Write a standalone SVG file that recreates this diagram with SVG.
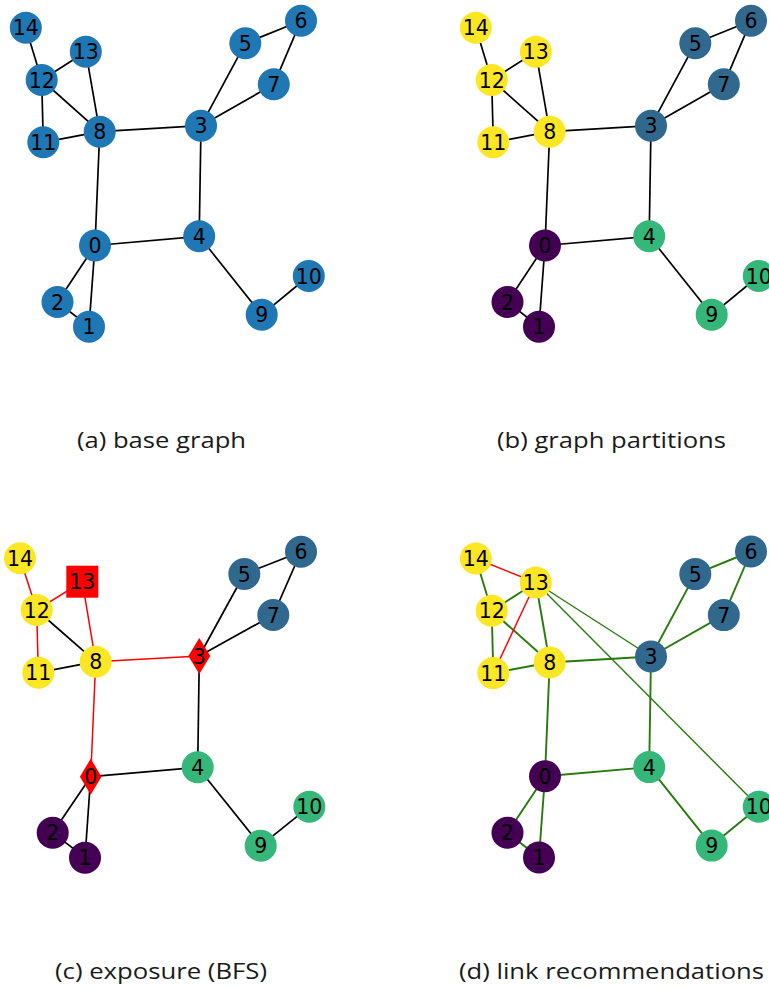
<svg xmlns="http://www.w3.org/2000/svg" width="769" height="988" viewBox="0 0 769 988">
<style>
.e{stroke:#000;stroke-width:1.7;fill:none}
.r{stroke:#ff0000;stroke-width:1.5;fill:none}
.g{stroke:#277a0c;stroke-width:1.9;fill:none}
.gt{stroke:#277a0c;stroke-width:1.4;fill:none}
.rt{stroke:#ff0000;stroke-width:1.4;fill:none}
.lb{font-family:"DejaVu Sans",sans-serif;font-size:20.5px;fill:#000;text-anchor:middle}
.cap{font-family:"Open Sans","Noto Sans",sans-serif;font-size:21.5px;fill:#1a1a1a;text-anchor:middle}
.blu{fill:#1f77b4}.yel{fill:#fde725}.pur{fill:#440154}.tea{fill:#31688e}.grn{fill:#35b779}.red{fill:#ff0000}
</style>
<rect width="769" height="988" fill="#fff"/>

<!-- Panel A -->
<g id="panel-a">
<g id="a-edges">
<line class="e" x1="25.8" y1="27.7" x2="41.7" y2="80"/>
<line class="e" x1="41.7" y1="80" x2="85.8" y2="51.7"/>
<line class="e" x1="41.7" y1="80" x2="43.3" y2="142.3"/>
<line class="e" x1="41.7" y1="80" x2="99.7" y2="131.7"/>
<line class="e" x1="85.8" y1="51.7" x2="99.7" y2="131.7"/>
<line class="e" x1="43.3" y1="142.3" x2="99.7" y2="131.7"/>
<line class="e" x1="99.7" y1="131.7" x2="201" y2="125.7"/>
<line class="e" x1="99.7" y1="131.7" x2="95" y2="245.5"/>
<line class="e" x1="201" y1="125.7" x2="245.3" y2="43.3"/>
<line class="e" x1="201" y1="125.7" x2="273.8" y2="84.3"/>
<line class="e" x1="245.3" y1="43.3" x2="301" y2="20.7"/>
<line class="e" x1="301" y1="20.7" x2="273.8" y2="84.3"/>
<line class="e" x1="201" y1="125.7" x2="199.2" y2="236.3"/>
<line class="e" x1="199.2" y1="236.3" x2="95" y2="245.5"/>
<line class="e" x1="199.2" y1="236.3" x2="261.7" y2="314.8"/>
<line class="e" x1="261.7" y1="314.8" x2="308.8" y2="276"/>
<line class="e" x1="95" y1="245.5" x2="57.5" y2="302"/>
<line class="e" x1="95" y1="245.5" x2="89" y2="326.7"/>
<line class="e" x1="57.5" y1="302" x2="89" y2="326.7"/>
</g>
<g id="a-n0"><circle class="blu" cx="95" cy="245.5" r="16"/><text class="lb" x="95" y="253">0</text></g>
<g id="a-n1"><circle class="blu" cx="89" cy="326.7" r="16"/><text class="lb" x="89" y="334.2">1</text></g>
<g id="a-n2"><circle class="blu" cx="57.5" cy="302" r="16"/><text class="lb" x="57.5" y="309.5">2</text></g>
<g id="a-n3"><circle class="blu" cx="201" cy="125.7" r="16"/><text class="lb" x="201" y="133.2">3</text></g>
<g id="a-n4"><circle class="blu" cx="199.2" cy="236.3" r="16"/><text class="lb" x="199.2" y="243.8">4</text></g>
<g id="a-n5"><circle class="blu" cx="245.3" cy="43.3" r="16"/><text class="lb" x="245.3" y="50.8">5</text></g>
<g id="a-n6"><circle class="blu" cx="301" cy="20.7" r="16"/><text class="lb" x="301" y="28.2">6</text></g>
<g id="a-n7"><circle class="blu" cx="273.8" cy="84.3" r="16"/><text class="lb" x="273.8" y="91.8">7</text></g>
<g id="a-n8"><circle class="blu" cx="99.7" cy="131.7" r="16"/><text class="lb" x="99.7" y="139.2">8</text></g>
<g id="a-n9"><circle class="blu" cx="261.7" cy="314.8" r="16"/><text class="lb" x="261.7" y="322.3">9</text></g>
<g id="a-n10"><circle class="blu" cx="308.8" cy="276" r="16"/><text class="lb" x="308.8" y="283.5">10</text></g>
<g id="a-n11"><circle class="blu" cx="43.3" cy="142.3" r="16"/><text class="lb" x="43.3" y="149.8">11</text></g>
<g id="a-n12"><circle class="blu" cx="41.7" cy="80" r="16"/><text class="lb" x="41.7" y="87.5">12</text></g>
<g id="a-n13"><circle class="blu" cx="85.8" cy="51.7" r="16"/><text class="lb" x="85.8" y="59.2">13</text></g>
<g id="a-n14"><circle class="blu" cx="25.8" cy="27.7" r="16"/><text class="lb" x="25.8" y="35.2">14</text></g>
<text id="cap-a" class="cap" x="161.5" y="448" textLength="169" lengthAdjust="spacingAndGlyphs">(a) base graph</text>
</g>

<!-- Panel B -->
<g id="panel-b" transform="translate(450,0)">
<g id="b-edges">
<line class="e" x1="25.8" y1="27.7" x2="41.7" y2="80"/>
<line class="e" x1="41.7" y1="80" x2="85.8" y2="51.7"/>
<line class="e" x1="41.7" y1="80" x2="43.3" y2="142.3"/>
<line class="e" x1="41.7" y1="80" x2="99.7" y2="131.7"/>
<line class="e" x1="85.8" y1="51.7" x2="99.7" y2="131.7"/>
<line class="e" x1="43.3" y1="142.3" x2="99.7" y2="131.7"/>
<line class="e" x1="99.7" y1="131.7" x2="201" y2="125.7"/>
<line class="e" x1="99.7" y1="131.7" x2="95" y2="245.5"/>
<line class="e" x1="201" y1="125.7" x2="245.3" y2="43.3"/>
<line class="e" x1="201" y1="125.7" x2="273.8" y2="84.3"/>
<line class="e" x1="245.3" y1="43.3" x2="301" y2="20.7"/>
<line class="e" x1="301" y1="20.7" x2="273.8" y2="84.3"/>
<line class="e" x1="201" y1="125.7" x2="199.2" y2="236.3"/>
<line class="e" x1="199.2" y1="236.3" x2="95" y2="245.5"/>
<line class="e" x1="199.2" y1="236.3" x2="261.7" y2="314.8"/>
<line class="e" x1="261.7" y1="314.8" x2="308.8" y2="276"/>
<line class="e" x1="95" y1="245.5" x2="57.5" y2="302"/>
<line class="e" x1="95" y1="245.5" x2="89" y2="326.7"/>
<line class="e" x1="57.5" y1="302" x2="89" y2="326.7"/>
</g>
<g id="b-n0"><circle class="pur" cx="95" cy="245.5" r="16"/><text class="lb" x="95" y="253">0</text></g>
<g id="b-n1"><circle class="pur" cx="89" cy="326.7" r="16"/><text class="lb" x="89" y="334.2">1</text></g>
<g id="b-n2"><circle class="pur" cx="57.5" cy="302" r="16"/><text class="lb" x="57.5" y="309.5">2</text></g>
<g id="b-n3"><circle class="tea" cx="201" cy="125.7" r="16"/><text class="lb" x="201" y="133.2">3</text></g>
<g id="b-n4"><circle class="grn" cx="199.2" cy="236.3" r="16"/><text class="lb" x="199.2" y="243.8">4</text></g>
<g id="b-n5"><circle class="tea" cx="245.3" cy="43.3" r="16"/><text class="lb" x="245.3" y="50.8">5</text></g>
<g id="b-n6"><circle class="tea" cx="301" cy="20.7" r="16"/><text class="lb" x="301" y="28.2">6</text></g>
<g id="b-n7"><circle class="tea" cx="273.8" cy="84.3" r="16"/><text class="lb" x="273.8" y="91.8">7</text></g>
<g id="b-n8"><circle class="yel" cx="99.7" cy="131.7" r="16"/><text class="lb" x="99.7" y="139.2">8</text></g>
<g id="b-n9"><circle class="grn" cx="261.7" cy="314.8" r="16"/><text class="lb" x="261.7" y="322.3">9</text></g>
<g id="b-n10"><circle class="grn" cx="308.8" cy="276" r="16"/><text class="lb" x="308.8" y="283.5">10</text></g>
<g id="b-n11"><circle class="yel" cx="43.3" cy="142.3" r="16"/><text class="lb" x="43.3" y="149.8">11</text></g>
<g id="b-n12"><circle class="yel" cx="41.7" cy="80" r="16"/><text class="lb" x="41.7" y="87.5">12</text></g>
<g id="b-n13"><circle class="yel" cx="85.8" cy="51.7" r="16"/><text class="lb" x="85.8" y="59.2">13</text></g>
<g id="b-n14"><circle class="yel" cx="25.8" cy="27.7" r="16"/><text class="lb" x="25.8" y="35.2">14</text></g>
<text id="cap-b" class="cap" x="161.5" y="448" textLength="229" lengthAdjust="spacingAndGlyphs">(b) graph partitions</text>
</g>

<!-- Panel C -->
<g id="panel-c">
<g id="c-edges">
<line class="r" x1="20" y1="558.3" x2="36.7" y2="610"/>
<line class="r" x1="36.7" y1="610" x2="82.3" y2="581.7"/>
<line class="r" x1="36.7" y1="610" x2="38.3" y2="672.7"/>
<line class="e" x1="36.7" y1="610" x2="95.7" y2="661.7"/>
<line class="r" x1="82.3" y1="581.7" x2="95.7" y2="661.7"/>
<line class="e" x1="38.3" y1="672.7" x2="95.7" y2="661.7"/>
<line class="r" x1="95.7" y1="661.7" x2="199.3" y2="656"/>
<line class="r" x1="95.7" y1="661.7" x2="90.7" y2="776.7"/>
<line class="e" x1="199.3" y1="656" x2="244.3" y2="574"/>
<line class="e" x1="199.3" y1="656" x2="273.3" y2="615"/>
<line class="e" x1="244.3" y1="574" x2="301" y2="551.7"/>
<line class="e" x1="301" y1="551.7" x2="273.3" y2="615"/>
<line class="e" x1="199.3" y1="656" x2="197.7" y2="767.3"/>
<line class="e" x1="197.7" y1="767.3" x2="90.7" y2="776.7"/>
<line class="e" x1="197.7" y1="767.3" x2="260.7" y2="845.7"/>
<line class="e" x1="260.7" y1="845.7" x2="309.3" y2="806.7"/>
<line class="e" x1="90.7" y1="776.7" x2="52.7" y2="832.7"/>
<line class="e" x1="90.7" y1="776.7" x2="85" y2="857.7"/>
<line class="e" x1="52.7" y1="832.7" x2="85" y2="857.7"/>
</g>
<g id="c-n0"><polygon class="red" points="90.7,758.7 101.5,776.7 90.7,794.7 79.9,776.7"/><text class="lb" x="90.7" y="784.2">0</text></g>
<g id="c-n1"><circle class="pur" cx="85" cy="857.7" r="16"/><text class="lb" x="85" y="865.2">1</text></g>
<g id="c-n2"><circle class="pur" cx="52.7" cy="832.7" r="16"/><text class="lb" x="52.7" y="840.2">2</text></g>
<g id="c-n3"><polygon class="red" points="199.3,638 210.3,656 199.3,674 188.3,656"/><text class="lb" x="199.3" y="663.5">3</text></g>
<g id="c-n4"><circle class="grn" cx="197.7" cy="767.3" r="16"/><text class="lb" x="197.7" y="774.8">4</text></g>
<g id="c-n5"><circle class="tea" cx="244.3" cy="574" r="16"/><text class="lb" x="244.3" y="581.5">5</text></g>
<g id="c-n6"><circle class="tea" cx="301" cy="551.7" r="16"/><text class="lb" x="301" y="559.2">6</text></g>
<g id="c-n7"><circle class="tea" cx="273.3" cy="615" r="16"/><text class="lb" x="273.3" y="622.5">7</text></g>
<g id="c-n8"><circle class="yel" cx="95.7" cy="661.7" r="16"/><text class="lb" x="95.7" y="669.2">8</text></g>
<g id="c-n9"><circle class="grn" cx="260.7" cy="845.7" r="16"/><text class="lb" x="260.7" y="853.2">9</text></g>
<g id="c-n10"><circle class="grn" cx="309.3" cy="806.7" r="16"/><text class="lb" x="309.3" y="814.2">10</text></g>
<g id="c-n11"><circle class="yel" cx="38.3" cy="672.7" r="16"/><text class="lb" x="38.3" y="680.2">11</text></g>
<g id="c-n12"><circle class="yel" cx="36.7" cy="610" r="16"/><text class="lb" x="36.7" y="617.5">12</text></g>
<g id="c-n13"><rect class="red" x="66.3" y="565.7" width="32" height="32"/><text class="lb" x="82.3" y="589.2">13</text></g>
<g id="c-n14"><circle class="yel" cx="20" cy="558.3" r="16"/><text class="lb" x="20" y="565.8">14</text></g>
<text id="cap-c" class="cap" x="161" y="979" textLength="212" lengthAdjust="spacingAndGlyphs">(c) exposure (BFS)</text>
</g>

<!-- Panel D -->
<g id="panel-d" transform="translate(450,530.8)">
<g id="d-edges">
<line class="g" x1="25.8" y1="27.7" x2="41.7" y2="80"/>
<line class="g" x1="41.7" y1="80" x2="85.8" y2="51.7"/>
<line class="g" x1="41.7" y1="80" x2="43.3" y2="142.3"/>
<line class="g" x1="41.7" y1="80" x2="99.7" y2="131.7"/>
<line class="g" x1="85.8" y1="51.7" x2="99.7" y2="131.7"/>
<line class="g" x1="43.3" y1="142.3" x2="99.7" y2="131.7"/>
<line class="g" x1="99.7" y1="131.7" x2="201" y2="125.7"/>
<line class="g" x1="99.7" y1="131.7" x2="95" y2="245.5"/>
<line class="g" x1="201" y1="125.7" x2="245.3" y2="43.3"/>
<line class="g" x1="201" y1="125.7" x2="273.8" y2="84.3"/>
<line class="g" x1="245.3" y1="43.3" x2="301" y2="20.7"/>
<line class="g" x1="301" y1="20.7" x2="273.8" y2="84.3"/>
<line class="g" x1="201" y1="125.7" x2="199.2" y2="236.3"/>
<line class="g" x1="199.2" y1="236.3" x2="95" y2="245.5"/>
<line class="g" x1="199.2" y1="236.3" x2="261.7" y2="314.8"/>
<line class="g" x1="261.7" y1="314.8" x2="308.8" y2="276"/>
<line class="g" x1="95" y1="245.5" x2="57.5" y2="302"/>
<line class="g" x1="95" y1="245.5" x2="89" y2="326.7"/>
<line class="g" x1="57.5" y1="302" x2="89" y2="326.7"/>
<line class="gt" x1="85.8" y1="51.7" x2="201" y2="125.7"/>
<line class="gt" x1="85.8" y1="51.7" x2="308.8" y2="276"/>
<line class="rt" x1="85.8" y1="51.7" x2="25.8" y2="27.7"/>
<line class="rt" x1="85.8" y1="51.7" x2="43.3" y2="142.3"/>
</g>
<g id="d-n0"><circle class="pur" cx="95" cy="245.5" r="16"/><text class="lb" x="95" y="253">0</text></g>
<g id="d-n1"><circle class="pur" cx="89" cy="326.7" r="16"/><text class="lb" x="89" y="334.2">1</text></g>
<g id="d-n2"><circle class="pur" cx="57.5" cy="302" r="16"/><text class="lb" x="57.5" y="309.5">2</text></g>
<g id="d-n3"><circle class="tea" cx="201" cy="125.7" r="16"/><text class="lb" x="201" y="133.2">3</text></g>
<g id="d-n4"><circle class="grn" cx="199.2" cy="236.3" r="16"/><text class="lb" x="199.2" y="243.8">4</text></g>
<g id="d-n5"><circle class="tea" cx="245.3" cy="43.3" r="16"/><text class="lb" x="245.3" y="50.8">5</text></g>
<g id="d-n6"><circle class="tea" cx="301" cy="20.7" r="16"/><text class="lb" x="301" y="28.2">6</text></g>
<g id="d-n7"><circle class="tea" cx="273.8" cy="84.3" r="16"/><text class="lb" x="273.8" y="91.8">7</text></g>
<g id="d-n8"><circle class="yel" cx="99.7" cy="131.7" r="16"/><text class="lb" x="99.7" y="139.2">8</text></g>
<g id="d-n9"><circle class="grn" cx="261.7" cy="314.8" r="16"/><text class="lb" x="261.7" y="322.3">9</text></g>
<g id="d-n10"><circle class="grn" cx="308.8" cy="276" r="16"/><text class="lb" x="308.8" y="283.5">10</text></g>
<g id="d-n11"><circle class="yel" cx="43.3" cy="142.3" r="16"/><text class="lb" x="43.3" y="149.8">11</text></g>
<g id="d-n12"><circle class="yel" cx="41.7" cy="80" r="16"/><text class="lb" x="41.7" y="87.5">12</text></g>
<g id="d-n13"><circle class="yel" cx="85.8" cy="51.7" r="16"/><text class="lb" x="85.8" y="59.2">13</text></g>
<g id="d-n14"><circle class="yel" cx="25.8" cy="27.7" r="16"/><text class="lb" x="25.8" y="35.2">14</text></g>
<text id="cap-d" class="cap" x="161.5" y="448" textLength="305" lengthAdjust="spacingAndGlyphs">(d) link recommendations</text>
</g>
</svg>
